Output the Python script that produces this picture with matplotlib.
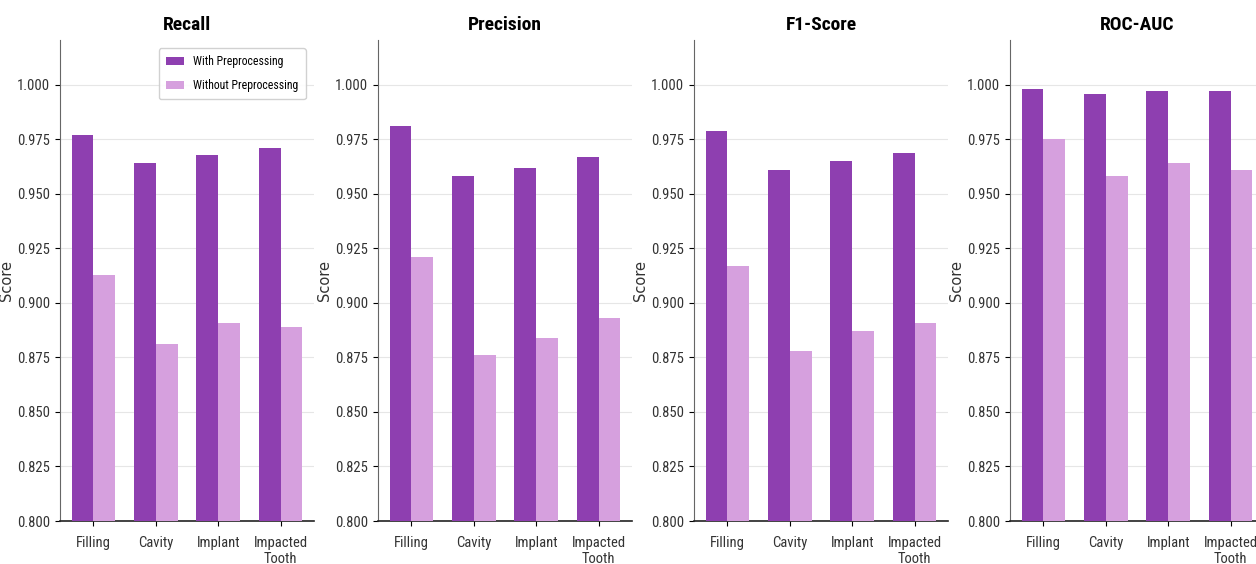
import matplotlib
matplotlib.use("Agg")
import matplotlib.pyplot as plt
import numpy as np

categories = ["Filling", "Cavity", "Implant", "Impacted\nTooth"]
metrics = ["Recall", "Precision", "F1-Score", "ROC-AUC"]

with_pre = {
    "Recall":    [0.977, 0.964, 0.968, 0.971],
    "Precision": [0.981, 0.958, 0.962, 0.967],
    "F1-Score":  [0.979, 0.961, 0.965, 0.969],
    "ROC-AUC":   [0.998, 0.996, 0.997, 0.997],
}
without_pre = {
    "Recall":    [0.913, 0.881, 0.891, 0.889],
    "Precision": [0.921, 0.876, 0.884, 0.893],
    "F1-Score":  [0.917, 0.878, 0.887, 0.891],
    "ROC-AUC":   [0.975, 0.958, 0.964, 0.961],
}
yticks = [0.800, 0.825, 0.850, 0.875, 0.900, 0.925, 0.950, 0.975, 1.000]

c_with = "#8e3fb0"
c_without = "#d6a0de"
narrow = ["Roboto Condensed", "DejaVu Sans"]

fig = plt.figure(figsize=(12.56, 5.64), dpi=100)

x = np.arange(len(categories))
w = 0.35
lefts = [60, 378, 694, 1010]

for i, m in enumerate(metrics):
    ax = fig.add_axes([lefts[i] / 1256, 43 / 564, 254 / 1256, 481 / 564])
    ax.bar(x - w / 2, with_pre[m], w, color=c_with, label="With Preprocessing", zorder=3)
    ax.bar(x + w / 2, without_pre[m], w, color=c_without, label="Without Preprocessing", zorder=3)
    ax.set_ylim(0.8, 1.0206)
    ax.set_yticks(yticks)
    ax.set_yticklabels([f"{t:.3f}" for t in yticks], family=narrow, fontsize=10.5, color="#333333")
    ax.set_xticks(x)
    ax.set_xticklabels(categories, family=narrow, fontsize=10.5, color="#333333", linespacing=1.25)
    ax.tick_params(axis="x", pad=7)
    ax.set_title(m, family=narrow, fontsize=14, fontweight="bold", pad=7)
    ax.set_ylabel("Score", fontsize=10.5, labelpad=2, color="#333333")
    ax.grid(axis="y", color="#e6e6e6", linewidth=0.8, zorder=0)
    ax.spines["top"].set_visible(False)
    ax.spines["right"].set_visible(False)
    ax.spines["left"].set_color("#666666")
    ax.spines["bottom"].set_color("#222222")
    ax.spines["bottom"].set_linewidth(1.2)
    if i == 0:
        ax.legend(loc="upper right", prop={"family": narrow, "size": 8.5}, framealpha=0.9,
                  handlelength=1.5, labelspacing=0.9, borderpad=0.6,
                  bbox_to_anchor=(0.99, 0.995))

fig.savefig("out.png", dpi=100)
